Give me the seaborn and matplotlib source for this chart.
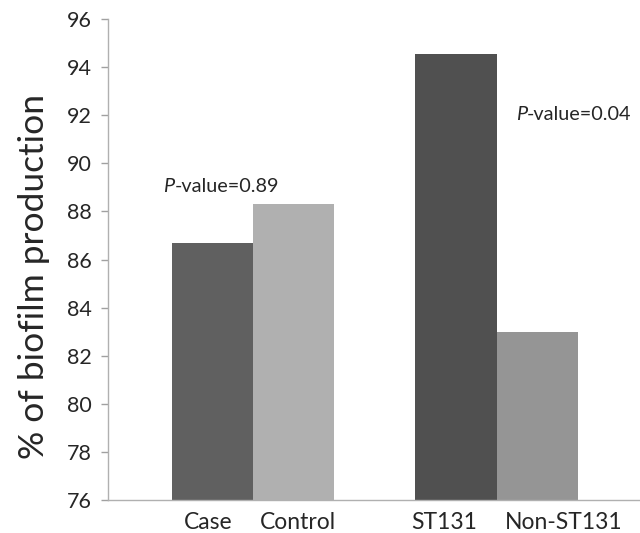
import matplotlib
matplotlib.use("Agg")
import matplotlib.pyplot as plt
import seaborn as sns
import pandas as pd

categories = ["Case", "Control", "ST131", "Non-ST131"]
positions = [0, 1, 3, 4]
label_positions = [-0.05, 1.05, 2.86, 4.33]
values = [86.7, 88.3, 94.55, 83.0]
colors = ["#606060", "#b0b0b0", "#505050", "#959595"]
yticks = [76, 78, 80, 82, 84, 86, 88, 90, 92, 94, 96]
annotations = [("0.89", -0.60, 89.05), ("0.04", 3.74, 92.05)]

sns.set_theme(style="white")
plt.rcParams["font.family"] = ["Lato", "DejaVu Sans"]

df = pd.DataFrame({"cat": categories, "pos": positions, "val": values})

fig = plt.figure(figsize=(6.4, 5.33), dpi=100)
ax = fig.add_axes([0.169, 0.062, 0.829, 0.902])

sns.barplot(data=df, x="pos", y="val", hue="cat", palette=colors,
            native_scale=True, dodge=False, width=1.0, legend=False,
            saturation=1, ax=ax, linewidth=0, bottom=0)

ax.set_ylim(76, 96)
ax.set_xlim(-1.28, 5.25)
ax.set_yticks(yticks)
ax.set_yticklabels([str(t) for t in yticks], fontsize=15.5)
ax.set_xticks(label_positions)
ax.set_xticklabels(categories, fontsize=16.5)
ax.tick_params(axis="y", length=5, width=1, color="#a0a0a0", direction="out", left=True, pad=7)
ax.tick_params(axis="x", length=0, pad=9)
ax.set_xlabel("")
ax.set_ylabel("% of biofilm production", fontsize=25.5)
ax.yaxis.set_label_coords(-0.11, 0.465)

for s in ["top", "right"]:
    ax.spines[s].set_visible(False)
ax.spines["left"].set_color("#b0b0b0")
ax.spines["bottom"].set_color("#b0b0b0")
ax.spines["left"].set_linewidth(1)
ax.spines["bottom"].set_linewidth(1)

for pv, x, y in annotations:
    t = ax.text(x, y, "P", fontsize=14.3, fontstyle="italic", va="center", ha="left")
    ax.annotate("-value=" + pv, xy=(1, 0), xycoords=t, va="bottom", ha="left", fontsize=14.3)

fig.savefig("out.png", dpi=100)
